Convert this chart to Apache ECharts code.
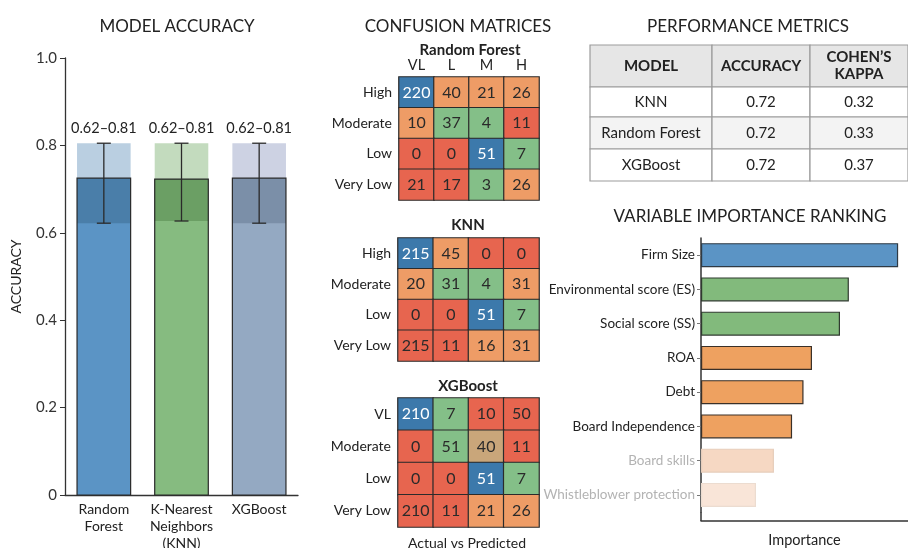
<!DOCTYPE html>
<html><head><meta charset="utf-8">
<script src="https://cdn.jsdelivr.net/npm/echarts@6/dist/echarts.min.js"></script>
<style>html,body{margin:0;padding:0;background:#fff}#c{width:908px;height:548px}</style>
</head><body><div id="c"></div>
<script>
// ---------- DATA ----------
const accModels = ['Random\nForest', 'K-Nearest\nNeighbors\n(KNN)', 'XGBoost'];
const accuracy = [0.725, 0.723, 0.725];
const ciLow = [0.622, 0.627, 0.622];
const ciHigh = [0.805, 0.805, 0.805];
const ciLabels = ['0.62–0.81', '0.62–0.81', '0.62–0.81'];
const accTicks = [0, 0.2, 0.4, 0.6, 0.8, 1.0];

const cmCols = ['VL', 'L', 'M', 'H'];
const rfRows = ['High', 'Moderate', 'Low', 'Very Low'];
const rfValues = [[220, 40, 21, 26], [10, 37, 4, 11], [0, 0, 51, 7], [21, 17, 3, 26]];
const rfClass = [['B','O','O','O'], ['O','G','G','R'], ['R','R','B','G'], ['R','R','G','O']];
const knnRows = ['High', 'Moderate', 'Low', 'Very Low'];
const knnValues = [[215, 45, 0, 0], [20, 31, 4, 31], [0, 0, 51, 7], [215, 11, 16, 31]];
const knnClass = [['B','O','R','R'], ['O','G','G','O'], ['R','R','B','G'], ['R','R','O','O']];
const xgbRows = ['VL', 'Moderate', 'Low', 'Very Low'];
const xgbValues = [[210, 7, 10, 50], [0, 51, 40, 11], [0, 0, 51, 7], [210, 11, 21, 26]];
const xgbClass = [['B','G','R','R'], ['R','G','T','R'], ['R','R','B','G'], ['R','R','O','O']];

const tableHeader = ['MODEL', 'ACCURACY', 'COHEN’S\nKAPPA'];
const tableModels = ['KNN', 'Random Forest', 'XGBoost'];
const tableAccuracy = ['0.72', '0.72', '0.72'];
const tableKappa = ['0.32', '0.33', '0.37'];

const impVars = ['Firm Size', 'Environmental score (ES)', 'Social score (SS)', 'ROA', 'Debt',
  'Board Independence', 'Board skills', 'Whistleblower protection'];
const impValues = [100, 75, 70.5, 56.3, 52, 46.2, 37, 27.9];
const impGroup = ['size', 'esg', 'esg', 'fin', 'fin', 'fin', 'faint1', 'faint2'];

// ---------- STYLES ----------
const FONT = 'Lato, "Open Sans", sans-serif';
const accStyle = [
  {base: '#5b94c5', dark: '#4a7ea9', light: '#bacfe1'},
  {base: '#86bb80', dark: '#6b9f64', light: '#c3dbbe'},
  {base: '#94a9c2', dark: '#7b8fa8', light: '#cdd2e3'}
];
const cellPalette = {B: '#3c79ab', O: '#ee9c66', G: '#84bf88', R: '#e7654f', T: '#c9a67a'};
const impPalette = {
  size: {fill: '#5b94c5', border: '#2f3a44', label: '#222'},
  esg: {fill: '#82ba7c', border: '#2f3a2f', label: '#222'},
  fin: {fill: '#eea160', border: '#3a3028', label: '#222'},
  faint1: {fill: '#f6d8c3', border: '#e6cdbb', label: '#b3b3b3'},
  faint2: {fill: '#f9e5d8', border: '#ecdcd0', label: '#b3b3b3'}
};

function heatData(values, cls) {
  const out = [];
  values.forEach((row, r) => row.forEach((v, c) => {
    const k = cls[r][c];
    out.push({value: [c, r, v], itemStyle: {color: cellPalette[k]},
      label: {color: k === 'B' ? '#fff' : '#2a2a2a'}});
  }));
  return out;
}

const chart = echarts.init(document.getElementById('c'), null, {renderer: 'canvas'});

const titleStyle = {fontFamily: FONT, fontSize: 17, fontWeight: 'normal', color: '#222'};
const subStyle = {fontFamily: FONT, fontSize: 15, fontWeight: 'bold', color: '#222'};

// table graphic
const colX = [590, 712, 810, 908];
const rowY = [45, 87, 117, 149, 181];
const tableGraphic = [];
const tableRows = [tableHeader].concat(tableModels.map((m, i) => [m, tableAccuracy[i], tableKappa[i]]));
tableRows.forEach((row, r) => {
  row.forEach((txt, c) => {
    const fill = r === 0 ? '#e6e6e6' : (r === 2 ? '#f3f3f3' : '#ffffff');
    tableGraphic.push({
      type: 'rect', shape: {x: colX[c], y: rowY[r], width: colX[c + 1] - colX[c], height: rowY[r + 1] - rowY[r]},
      style: {fill: fill, stroke: '#9c9c9c', lineWidth: 1.2}
    });
    tableGraphic.push({
      type: 'text', x: (colX[c] + colX[c + 1]) / 2, y: (rowY[r] + rowY[r + 1]) / 2,
      style: {text: txt, fontFamily: FONT, fontSize: 15, fontWeight: r === 0 ? 'bold' : 'normal',
        fill: '#222', align: 'center', verticalAlign: 'middle', lineHeight: 17}
    });
  });
});
// short extension of the importance y-axis line down to the offset x-axis
tableGraphic.push({type: 'line', shape: {x1: 701, y1: 512, x2: 701, y2: 521},
  style: {stroke: '#333', lineWidth: 1.5}});

const hmAxisY = (gi, rows) => ({
  type: 'category', gridIndex: gi, data: rows, inverse: true,
  axisLine: {show: false}, axisTick: {show: false},
  axisLabel: {fontFamily: FONT, fontSize: 14, color: '#222', margin: 7}
});
const hmAxisX = (gi, show) => ({
  type: 'category', gridIndex: gi, data: cmCols, position: 'top',
  axisLine: {show: false}, axisTick: {show: false},
  axisLabel: {show: show, fontFamily: FONT, fontSize: 14.5, color: '#222', margin: 4}
});
const hmSeries = (gi, vals, cls) => ({
  type: 'heatmap', xAxisIndex: gi, yAxisIndex: gi, data: heatData(vals, cls),
  itemStyle: {borderColor: '#2b2b2b', borderWidth: 1.2},
  label: {show: true, fontFamily: FONT, fontSize: 16},
  emphasis: {disabled: true}
});

const T = (text, x, y, style) => ({text, left: x, top: y, textAlign: 'center', padding: 0, textStyle: style});

const option = {
  animation: false,
  backgroundColor: '#fff',
  textStyle: {fontFamily: FONT},
  title: [
    T('MODEL ACCURACY', 177, 18, titleStyle),
    T('CONFUSION MATRICES', 458, 18, titleStyle),
    T('PERFORMANCE METRICS', 748, 18, titleStyle),
    T('VARIABLE IMPORTANCE RANKING', 750, 208, titleStyle),
    T('Random Forest', 470, 43, subStyle),
    T('KNN', 468, 218, subStyle),
    T('XGBoost', 468, 379, subStyle),
    T('Actual vs Predicted', 467, 536, {fontFamily: FONT, fontSize: 14, fontWeight: 'normal', color: '#222'})
  ],
  grid: [
    {left: 65, top: 58, width: 233, height: 437, outerBoundsMode: 'none', containLabel: false},
    {left: 399, top: 77, width: 140, height: 123, outerBoundsMode: 'none', containLabel: false},
    {left: 398, top: 238, width: 141, height: 123, outerBoundsMode: 'none', containLabel: false},
    {left: 398, top: 398, width: 141, height: 129, outerBoundsMode: 'none', containLabel: false},
    {left: 701, top: 238, width: 207, height: 274, outerBoundsMode: 'none', containLabel: false}
  ],
  xAxis: [
    {type: 'category', gridIndex: 0, data: accModels,
      axisLine: {lineStyle: {color: '#333', width: 1.3}}, axisTick: {show: false},
      axisLabel: {fontFamily: FONT, fontSize: 14, color: '#222', margin: 6, lineHeight: 17, interval: 0}},
    hmAxisX(1, true), hmAxisX(2, false), hmAxisX(3, false),
    {type: 'value', gridIndex: 4, min: 0, max: 105, offset: 9,
      axisLine: {show: true, lineStyle: {color: '#333', width: 1.5}}, axisTick: {show: false},
      axisLabel: {show: false}, splitLine: {show: false},
      name: 'Importance', nameLocation: 'middle', nameGap: 12,
      nameTextStyle: {fontFamily: FONT, fontSize: 14.5, color: '#222'}}
  ],
  yAxis: [
    {type: 'value', gridIndex: 0, min: 0, max: 1, interval: 0.2,
      axisLine: {show: true, lineStyle: {color: '#333', width: 1.3}},
      axisTick: {show: true, length: 5, lineStyle: {color: '#333'}},
      splitLine: {show: false},
      axisLabel: {fontFamily: FONT, fontSize: 15, color: '#333', margin: 8,
        formatter: v => { const t = accTicks.find(x => Math.abs(x - v) < 1e-6); return t === 0 ? '0' : (t !== undefined ? t.toFixed(1) : ''); }},
      name: 'ACCURACY', nameLocation: 'middle', nameGap: 42, nameRotate: 90,
      nameTextStyle: {fontFamily: FONT, fontSize: 14, color: '#222'}},
    hmAxisY(1, rfRows), hmAxisY(2, knnRows), hmAxisY(3, xgbRows),
    {type: 'category', gridIndex: 4, inverse: true,
      data: impVars.map((v, i) => ({value: v, textStyle: {color: impPalette[impGroup[i]].label}})),
      axisLine: {show: true, lineStyle: {color: '#333', width: 1.5}},
      axisTick: {show: true, alignWithLabel: true, length: 4, lineStyle: {color: '#777'}},
      axisLabel: {fontFamily: FONT, fontSize: 13.5, color: '#222', margin: 6}}
  ],
  series: [
    {
      type: 'custom', xAxisIndex: 0, yAxisIndex: 0,
      data: accuracy.map((a, i) => [i, a, ciLow[i], ciHigh[i]]),
      renderItem: (params, api) => {
        const i = api.value(0), acc = api.value(1), lo = api.value(2), hi = api.value(3);
        const st = accStyle[i];
        const w = api.size([1, 0])[0] * 0.69;
        const p0 = api.coord([i, 0]), pa = api.coord([i, acc]), pl = api.coord([i, lo]), ph = api.coord([i, hi]);
        const x0 = p0[0] - w / 2, cx = p0[0], cap = 7;
        return {type: 'group', children: [
          {type: 'rect', shape: {x: x0, y: ph[1], width: w, height: pa[1] - ph[1]}, style: {fill: st.light}},
          {type: 'rect', shape: {x: x0, y: pa[1], width: w, height: p0[1] - pa[1]}, style: {fill: st.base}},
          {type: 'rect', shape: {x: x0, y: pa[1], width: w, height: pl[1] - pa[1]}, style: {fill: st.dark}},
          {type: 'rect', shape: {x: x0, y: pa[1], width: w, height: p0[1] - pa[1]},
            style: {fill: 'none', stroke: '#2a2a2a', lineWidth: 1.2}},
          {type: 'line', shape: {x1: cx, y1: ph[1], x2: cx, y2: pl[1]}, style: {stroke: '#2a2a2a', lineWidth: 1.3}},
          {type: 'line', shape: {x1: cx - cap, y1: ph[1], x2: cx + cap, y2: ph[1]}, style: {stroke: '#2a2a2a', lineWidth: 1.3}},
          {type: 'line', shape: {x1: cx - cap, y1: pl[1], x2: cx + cap, y2: pl[1]}, style: {stroke: '#2a2a2a', lineWidth: 1.3}},
          {type: 'text', x: cx, y: ph[1] - 15, style: {text: ciLabels[i], fontFamily: FONT, fontSize: 14.5,
            fill: '#222', align: 'center', verticalAlign: 'middle'}}
        ]};
      }
    },
    hmSeries(1, rfValues, rfClass),
    hmSeries(2, knnValues, knnClass),
    hmSeries(3, xgbValues, xgbClass),
    {
      type: 'bar', xAxisIndex: 4, yAxisIndex: 4, barWidth: 24,
      data: impValues.map((v, i) => ({value: v, itemStyle: {color: impPalette[impGroup[i]].fill,
        borderColor: impPalette[impGroup[i]].border, borderWidth: 1.2}})),
      emphasis: {disabled: true}
    }
  ],
  graphic: tableGraphic
};
chart.setOption(option);
</script></body></html>
